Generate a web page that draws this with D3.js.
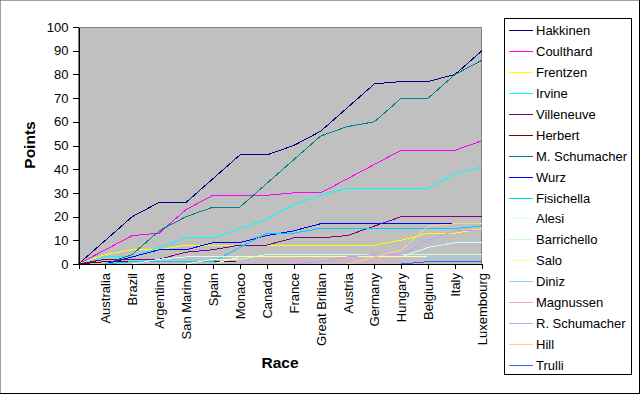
<!DOCTYPE html>
<html>
<head>
<meta charset="utf-8">
<script src="https://cdn.jsdelivr.net/npm/d3@7"></script>
<style>
  body { margin: 0; background: #fff; }
  text { font-family: Arial, "Liberation Sans", sans-serif; fill: #000; }
</style>
</head>
<body>
<div></div>
<script>
//set the width and height of the svg
var width = 641;
var height = 394;

//race names (first entry is the season start, no label)
var races = ["", "Australia", "Brazil", "Argentina", "San Marino", "Spain",
             "Monaco", "Canada", "France", "Great Britian", "Austria",
             "Germany", "Hungary", "Belgium", "Italy", "Luxembourg"];

//cumulative points per driver
var hakkinen    = [0, 10, 20, 26, 26, 36, 46, 46, 50, 56, 66, 76, 77, 77, 80, 90];
var coulthard   = [0, 6, 12, 13, 23, 29, 29, 29, 30, 30, 36, 42, 48, 48, 48, 52];
var frentzen    = [0, 4, 6, 6, 8, 8, 8, 8, 8, 8, 8, 8, 10, 13, 13, 15];
var irvine      = [0, 3, 3, 7, 11, 11, 15, 19, 25, 29, 32, 32, 32, 32, 38, 41];
var villeneuve  = [0, 2, 2, 2, 5, 6, 8, 8, 11, 11, 12, 16, 20, 20, 20, 20];
var herbert     = [0, 1, 1, 1, 1, 1, 1, 1, 1, 1, 1, 1, 1, 1, 1, 1];
var mSchumacher = [0, 0, 4, 14, 20, 24, 24, 34, 44, 54, 58, 60, 70, 70, 80, 86];
var wurz        = [0, 0, 3, 6, 6, 9, 9, 12, 14, 17, 17, 17, 17, 17, 17, 17];
var fisichella  = [0, 0, 1, 1, 1, 1, 7, 13, 13, 15, 15, 15, 15, 15, 15, 16];
var alesi       = [0, 0, 0, 2, 3, 3, 3, 3, 3, 3, 3, 3, 3, 7, 9, 9];
var barrichello = [0, 0, 0, 0, 0, 2, 2, 4, 4, 4, 4, 4, 4, 4, 4, 4];
var salo        = [0, 0, 0, 0, 0, 0, 3, 3, 3, 3, 3, 3, 3, 3, 3, 3];
var diniz       = [0, 0, 0, 0, 0, 0, 1, 1, 1, 1, 1, 1, 1, 3, 3, 3];
var magnussen   = [0, 0, 0, 0, 0, 0, 0, 1, 1, 1, 1, 1, 1, 1, 1, 1];
var rSchumacher = [0, 0, 0, 0, 0, 0, 0, 0, 0, 1, 3, 4, 4, 10, 14, 14];
var hill        = [0, 0, 0, 0, 0, 0, 0, 0, 0, 0, 0, 3, 6, 16, 17, 17];
var trulli      = [0, 0, 0, 0, 0, 0, 0, 0, 0, 0, 0, 0, 0, 1, 1, 1];

//driver names in legend order
var drivers = ["Hakkinen", "Coulthard", "Frentzen", "Irvine", "Villeneuve",
               "Herbert", "M. Schumacher", "Wurz", "Fisichella", "Alesi",
               "Barrichello", "Salo", "Diniz", "Magnussen", "R. Schumacher",
               "Hill", "Trulli"];

//y axis tick values
var yTicks = [0, 10, 20, 30, 40, 50, 60, 70, 80, 90, 100];

//build the series table from the arrays above
var seriesValues = [hakkinen, coulthard, frentzen, irvine, villeneuve, herbert,
                    mSchumacher, wurz, fisichella, alesi, barrichello, salo,
                    diniz, magnussen, rSchumacher, hill, trulli];
var series = drivers.map(function(name, i) {
  return {Driver: name, Values: seriesValues[i]};
});

//old excel palette
var colorScale = d3.scaleOrdinal()
                   .domain(drivers)
                   .range(["#000080", "#FF00FF", "#FFFF00", "#00FFFF", "#800080",
                           "#800000", "#008080", "#0000FF", "#00CCFF", "#CCFFFF",
                           "#CCFFCC", "#FFFF99", "#99CCFF", "#FF99CC", "#CC99FF",
                           "#FFCC99", "#3366FF"]);

//plot area
var plot = {left: 78.5, right: 482, top: 27, bottom: 264};

var svg = d3.select("div")
            .append("svg")
            .attr("width", width)
            .attr("height", height);

//chart area border
svg.append("rect")
   .attr("x", 0.5).attr("y", 0.5)
   .attr("width", width - 2).attr("height", height - 1)
   .attr("fill", "#fff")
   .attr("stroke", "#000");
svg.append("path")
   .attr("d", "M0.5," + (height - 1) + "V0.5H" + (width - 2))
   .attr("fill", "none")
   .attr("stroke", "#a0a0a0");

//scales
var xScale = d3.scalePoint()
               .domain(d3.range(races.length))
               .range([plot.left, plot.right]);
var yScale = d3.scaleLinear()
               .domain([0, 100])
               .range([plot.bottom, plot.top]);

//gray plot background
svg.append("rect")
   .attr("x", plot.left)
   .attr("y", plot.top + 0.5)
   .attr("width", plot.right - plot.left - 0.5)
   .attr("height", plot.bottom - plot.top - 0.5)
   .attr("fill", "#C0C0C0")
   .attr("stroke", "#808080")
   .attr("shape-rendering", "crispEdges");

//the lines
var lineGen = d3.line()
                .x(function(d, i) {return xScale(i);})
                .y(function(d) {return yScale(d);});

svg.append("g")
   .selectAll("path")
   .data(series)
   .enter()
   .append("path")
   .attr("d", function(d) {return lineGen(d.Values);})
   .attr("fill", "none")
   .attr("stroke", function(d) {return colorScale(d.Driver);})
   .attr("stroke-width", 1)
   .attr("shape-rendering", "crispEdges");

//y axis
var yAxis = svg.append("g")
   .attr("transform", "translate(" + plot.left + ",0)")
   .call(d3.axisLeft(yScale).tickValues(yTicks).tickSize(6).tickSizeOuter(0).tickPadding(4));
yAxis.selectAll("text")
     .style("font-size", "13px")
     .style("font-family", "Arial, 'Liberation Sans', sans-serif");

//x axis
var xAxis = svg.append("g")
   .attr("transform", "translate(0," + plot.bottom + ")")
   .call(d3.axisBottom(xScale).tickSize(5).tickSizeOuter(0)
           .tickFormat(function(i) {return races[i];}));
xAxis.selectAll("text")
     .style("font-size", "13px")
     .style("font-family", "Arial, 'Liberation Sans', sans-serif")
     .attr("text-anchor", "end")
     .attr("x", 0)
     .attr("y", 0)
     .attr("dy", "0.35em")
     .attr("transform", "translate(0,9) rotate(-90)");

svg.selectAll(".domain, .tick line")
   .attr("stroke", "#000")
   .attr("shape-rendering", "crispEdges");

//axis titles
svg.append("text")
   .text("Points")
   .attr("transform", "translate(35,145) rotate(-90)")
   .style("text-anchor", "middle")
   .style("font-size", "15.5px")
   .style("font-weight", "bold");
svg.append("text")
   .text("Race")
   .attr("x", 280)
   .attr("y", 368)
   .style("text-anchor", "middle")
   .style("font-size", "15.5px")
   .style("font-weight", "bold");

//legend
var legend = {left: 504, top: 18, right: 631, bottom: 374, step: 20.94};
svg.append("rect")
   .attr("x", legend.left + 0.5)
   .attr("y", legend.top + 0.5)
   .attr("width", legend.right - legend.left)
   .attr("height", legend.bottom - legend.top)
   .attr("fill", "#fff")
   .attr("stroke", "#000")
   .attr("shape-rendering", "crispEdges");

var items = svg.append("g")
               .selectAll("g")
               .data(drivers)
               .enter()
               .append("g")
               .attr("transform", function(d, i) {
                 return "translate(0," + Math.round(legend.top + 12 + i * legend.step) + ")";
               });
items.append("line")
     .attr("x1", 509).attr("x2", 533)
     .attr("y1", 0.5).attr("y2", 0.5)
     .attr("stroke", function(d) {return colorScale(d);})
     .attr("shape-rendering", "crispEdges");
items.append("text")
     .text(function(d) {return d;})
     .attr("x", 536)
     .attr("y", 0)
     .attr("dy", "0.35em")
     .style("font-size", "13px");
</script>
</body>
</html>
